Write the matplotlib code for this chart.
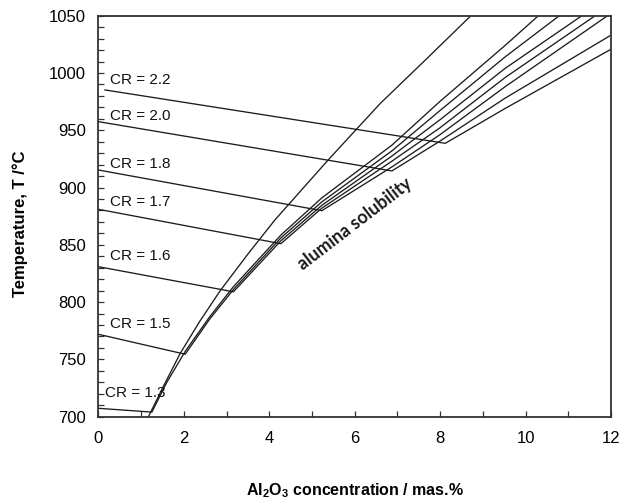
import matplotlib
matplotlib.use("Agg")
import matplotlib.pyplot as plt
from matplotlib.ticker import MultipleLocator

plt.rcParams["font.family"] = ["Liberation Sans", "DejaVu Sans"]
plt.rcParams["mathtext.fontset"] = "custom"
plt.rcParams["mathtext.rm"] = "Liberation Sans"
plt.rcParams["mathtext.bf"] = "Liberation Sans:bold"

# ---- data (x = Al2O3 mas.%, y = T / degC) ----
# each CR curve: cryolite branch down to the break point, then alumina branch up
cr_names = ["CR = 2.2", "CR = 2.0", "CR = 1.8", "CR = 1.7",
            "CR = 1.6", "CR = 1.5", "CR = 1.3"]

cr22_x = [0.15, 8.12, 9.52, 12.0]
cr22_t = [985.2, 938.6, 969.0, 1020.7]

cr20_x = [0.0, 6.87, 7.99, 9.52, 12.0]
cr20_t = [957.5, 914.5, 940.4, 978.0, 1033.0]

cr18_x = [0.0, 5.23, 6.87, 7.99, 9.52, 11.92]
cr18_t = [915.3, 879.8, 918.0, 946.0, 988.0, 1050.0]

cr17_x = [0.0, 4.27, 5.23, 6.87, 7.99, 9.52, 11.63]
cr17_t = [881.0, 851.0, 882.0, 923.0, 952.0, 996.0, 1050.0]

cr16_x = [0.0, 3.16, 4.27, 5.23, 6.87, 7.99, 9.52, 11.32]
cr16_t = [830.9, 809.0, 853.5, 884.5, 927.5, 959.0, 1004.0, 1050.0]

cr15_x = [0.0, 2.03, 2.6, 3.16, 4.27, 5.23, 6.87, 7.99, 9.52, 10.79]
cr15_t = [771.9, 754.5, 785.0, 811.0, 856.0, 887.5, 932.0, 967.0, 1014.0, 1050.0]

cr13_x = [0.0, 1.25, 1.6, 2.03, 2.6, 3.16, 4.27, 5.23, 6.87, 7.99, 9.52, 10.3]
cr13_t = [707.3, 704.0, 730.0, 757.0, 787.0, 813.5, 858.5, 891.0, 937.0, 975.0,
          1024.0, 1050.0]

cr_x = [cr22_x, cr20_x, cr18_x, cr17_x, cr16_x, cr15_x, cr13_x]
cr_t = [cr22_t, cr20_t, cr18_t, cr17_t, cr16_t, cr15_t, cr13_t]

# separate solubility curve on the left
sol_x = [1.17, 1.5, 1.91, 2.35, 2.85, 3.5, 4.13, 5.4, 6.6, 7.7, 8.72]
sol_t = [700.0, 725.0, 755.0, 782.0, 810.0, 842.0, 871.7, 925.0, 973.5, 1013.0,
         1050.0]

# label anchors (left edge, vertical centre)
lab_x = [0.27, 0.27, 0.27, 0.27, 0.27, 0.27, 0.15]
lab_t = [993.8, 962.7, 920.6, 887.4, 840.3, 780.9, 720.9]

LINE_C = "#1c1c1c"

fig = plt.figure(figsize=(6.21, 4.98), dpi=100)
ax = fig.add_axes([0.1586, 0.1633, 0.8253, 0.8052])

for xs, ts in zip(cr_x, cr_t):
    ax.plot(xs, ts, color=LINE_C, lw=0.95)
ax.plot(sol_x, sol_t, color=LINE_C, lw=0.95)

for name, lx, lt in zip(cr_names, lab_x, lab_t):
    ax.text(lx, lt, name, ha="left", va="center", fontsize=11, color="#111111")

ax.text(6.0, 868, "alumina solubility", rotation=37.5, rotation_mode="anchor",
        ha="center", va="center", fontsize=12.8, fontweight="bold",
        family=["Lato", "DejaVu Sans"], color="#1a1a1a")

ax.set_xlim(0, 12)
ax.set_ylim(700, 1050)
ax.xaxis.set_major_locator(MultipleLocator(2))
ax.xaxis.set_minor_locator(MultipleLocator(1))
ax.yaxis.set_major_locator(MultipleLocator(50))
ax.yaxis.set_minor_locator(MultipleLocator(10))
ax.tick_params(which="both", direction="in", top=False, right=False,
               length=4.5, width=0.9, color="#333333")
ax.tick_params(axis="x", which="major", pad=10.5, labelsize=12)
ax.tick_params(axis="y", which="major", pad=9, labelsize=12)
for sp in ax.spines.values():
    sp.set_linewidth(1.3)
    sp.set_color("#333333")

ax.set_xlabel(r"$\mathbf{Al_2O_3}$ concentration / mas.%", fontsize=11.5,
              fontweight="bold")
ax.set_ylabel("Temperature, T /\u00b0C", fontsize=12, fontweight="bold")
ax.xaxis.set_label_coords(0.5, -0.16)
ax.yaxis.set_label_coords(-0.138, 0.48)

fig.savefig("out.png", dpi=100)
